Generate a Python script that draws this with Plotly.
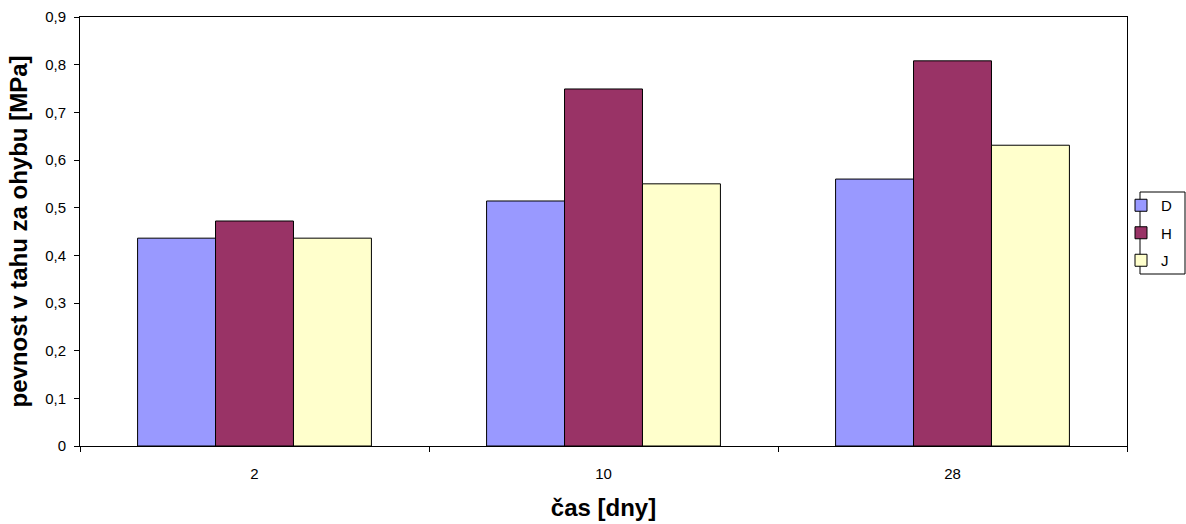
import plotly.graph_objects as go

categories = ["2", "10", "28"]
series_names = ["D", "H", "J"]
values_D = [0.436, 0.514, 0.560]
values_H = [0.472, 0.749, 0.808]
values_J = [0.436, 0.550, 0.631]
colors = ["#9999FF", "#993366", "#FFFFCC"]

fig = go.Figure()
for name, vals, col in zip(series_names, [values_D, values_H, values_J], colors):
    fig.add_trace(go.Bar(
        x=categories, y=vals, name=name, legendgroup=name,
        marker=dict(color=col, line=dict(color="#000000", width=1)),
    ))

W, H = 1186, 524
L, R, T, B = 80, 59, 17, 78
pw, ph = W - L - R, H - T - B

def px_x(p):
    return (p - L) / pw

def px_y(p):
    return (H - B - p) / ph

font_family = "Liberation Sans, Arial, sans-serif"
fig.update_layout(
    width=W, height=H,
    margin=dict(l=L, r=R, t=T, b=B, autoexpand=False),
    paper_bgcolor="white", plot_bgcolor="white",
    barmode="group", bargap=0.33, bargroupgap=0,
    separators=", ",
    font=dict(family=font_family, size=15, color="black"),
    showlegend=True,
    legend=dict(
        x=px_x(1121), xanchor="left", y=px_y(233), yanchor="middle",
        borderwidth=0, bgcolor="rgba(0,0,0,0)",
        font=dict(size=15, family=font_family),
        itemwidth=30, tracegroupgap=5,
    ),
    shapes=[dict(
        type="rect", xref="paper", yref="paper",
        x0=px_x(1140), x1=px_x(1185), y0=px_y(274), y1=px_y(192),
        line=dict(color="black", width=1), fillcolor="rgba(0,0,0,0)",
    )],
    xaxis=dict(
        type="category",
        showline=True, linecolor="black", linewidth=1, mirror=True,
        ticks="outside", tickson="boundaries", ticklen=5, tickcolor="black",
        ticklabelstandoff=14,
        showgrid=False,
        tickfont=dict(size=15),
        title=dict(text="<b>čas [dny]</b>", font=dict(size=24, family=font_family), standoff=18),
    ),
    yaxis=dict(
        range=[0, 0.9], dtick=0.1, tick0=0,
        showline=True, linecolor="black", linewidth=1, mirror=True,
        ticks="outside", ticklen=5, tickcolor="black",
        ticklabelstandoff=5,
        showgrid=False, zeroline=False,
        tickfont=dict(size=15),
        title=dict(text="<b>pevnost v tahu za ohybu [MPa]</b>", font=dict(size=24, family=font_family), standoff=10),
    ),
)

fig.write_html("out.html")
